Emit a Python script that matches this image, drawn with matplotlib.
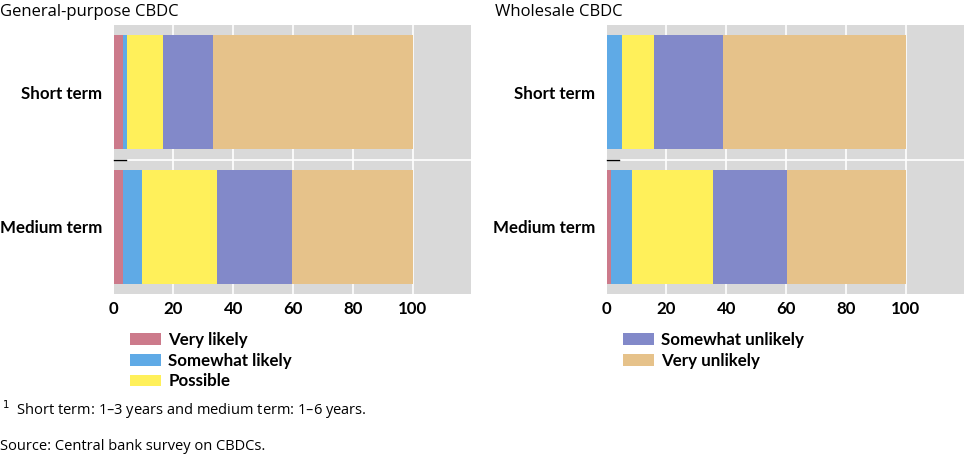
import matplotlib
matplotlib.use("Agg")
import matplotlib.pyplot as plt
import numpy as np

plt.rcParams['font.family'] = ['Open Sans', 'DejaVu Sans']

categories = ["Short term", "Medium term"]
series_names = ["Very likely", "Somewhat likely", "Possible", "Somewhat unlikely", "Very unlikely"]
colors = ["#CC7A8B", "#5FAAE6", "#FFF05A", "#8289C9", "#E6C28A"]

# Values per series: [Short term, Medium term]
gp_very_likely = [3.0, 3.0]
gp_somewhat_likely = [1.6, 6.6]
gp_possible = [11.8, 25.1]
gp_somewhat_unlikely = [16.7, 24.9]
gp_very_unlikely = [66.9, 40.4]

ws_very_likely = [0.0, 1.3]
ws_somewhat_likely = [5.0, 7.2]
ws_possible = [10.7, 26.9]
ws_somewhat_unlikely = [23.2, 25.0]
ws_very_unlikely = [61.1, 39.6]

xticks = [0, 20, 40, 60, 80, 100]

panels = [
    ("General-purpose CBDC", [gp_very_likely, gp_somewhat_likely, gp_possible, gp_somewhat_unlikely, gp_very_unlikely]),
    ("Wholesale CBDC", [ws_very_likely, ws_somewhat_likely, ws_possible, ws_somewhat_unlikely, ws_very_unlikely]),
]

bold_font = {'family': ['Lato', 'DejaVu Sans'], 'weight': 'bold', 'size': 12.2}

fig = plt.figure(figsize=(9.65, 4.58), dpi=100)
positions = [[113.7/965, 1-294/458, (471-113.7)/965, 269/458],
             [606.7/965, 1-294/458, (964-606.7)/965, 269/458]]
title_x = [0/965, 495/965]

handles = []
for i, (title, data) in enumerate(panels):
    ax = fig.add_axes(positions[i])
    ax.set_facecolor("#D9D9D9")
    y = np.arange(len(categories))
    left = np.zeros(len(categories))
    hs = []
    for name, vals, c in zip(series_names, data, colors):
        b = ax.barh(y, vals, left=left, height=0.85, color=c, label=name, zorder=3)
        hs.append(b)
        left = left + np.array(vals)
    handles.append(hs)
    ax.set_xlim(0, 119.5)
    ax.set_ylim(1.5, -0.5)
    ax.set_xticks(xticks)
    ax.set_xticklabels([str(t) for t in xticks], fontdict=bold_font)
    ax.set_yticks(y)
    ax.set_yticklabels(categories, fontdict=bold_font)
    ax.tick_params(length=0, pad=8)
    ax.tick_params(axis='x', pad=5)
    for s in ax.spines.values():
        s.set_visible(False)
    for t in xticks[1:]:
        ax.axvline(t, color='white', lw=1.2, zorder=1)
    ax.axhline(0.5, color='white', lw=1.2, zorder=1)
    ax.plot([0, 4], [0.5, 0.5], color='black', lw=1, zorder=4, clip_on=False)
    fig.text(title_x[i], 1-12/458, title, fontsize=12, va='center', ha='left')

legend_prop = {'family': ['Lato', 'DejaVu Sans'], 'weight': 'bold', 'size': 12.2}
fig.legend(handles=handles[0][:3], labels=series_names[:3], loc='upper left',
           bbox_to_anchor=(130/965, 1-332/458), frameon=False, prop=legend_prop,
           handlelength=1.8, handleheight=0.7, handletextpad=0.45, labelspacing=0.28,
           borderpad=0, borderaxespad=0)
fig.legend(handles=handles[1][3:], labels=series_names[3:], loc='upper left',
           bbox_to_anchor=(623/965, 1-332/458), frameon=False, prop=legend_prop,
           handlelength=1.8, handleheight=0.7, handletextpad=0.45, labelspacing=0.28,
           borderpad=0, borderaxespad=0)

fig.text(2/965, 1-410/458, "$^{1}$  Short term: 1–3 years and medium term: 1–6 years.", fontsize=10.5, va='center')
fig.text(0/965, 1-446/458, "Source: Central bank survey on CBDCs.", fontsize=10.5, va='center')

fig.savefig("out.png", dpi=100)
